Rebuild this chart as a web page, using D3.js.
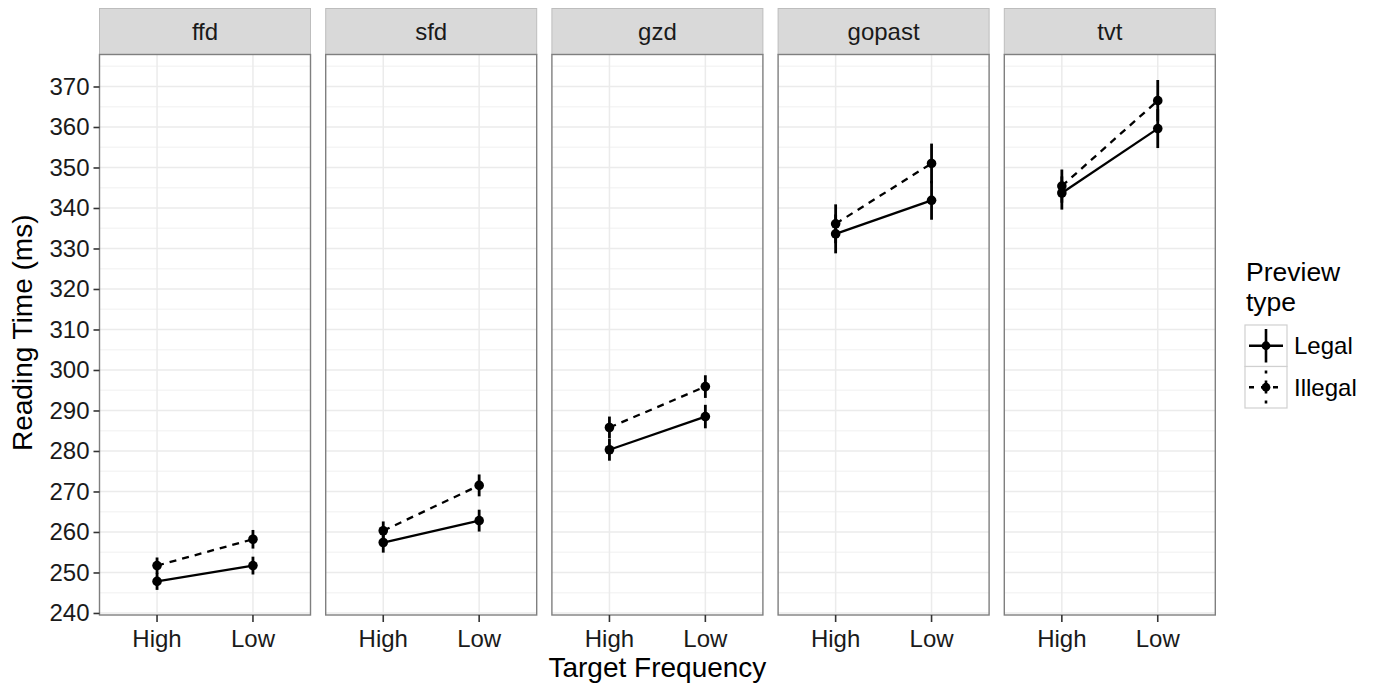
<!DOCTYPE html>
<html>
<head>
<meta charset="utf-8">
<script src="https://cdn.jsdelivr.net/npm/d3@7"></script>
<style>
  body { margin: 0; background: #fff; }
  svg { font-family: "Liberation Sans", Arial, Helvetica, sans-serif; }
</style>
</head>
<body>
<svg width="1374" height="688"></svg>
<script>
// chart data
const measures = ['ffd', 'sfd', 'gzd', 'gopast', 'tvt'];
const frequencies = ['High', 'Low'];
const previewTypes = ['Legal', 'Illegal'];
const legalMeans = [[247.8, 251.7], [257.4, 262.8], [280.3, 288.5], [333.6, 341.9], [343.7, 359.6]];
const legalErr = [[2.1, 2.2], [2.5, 2.7], [2.7, 2.9], [4.8, 4.8], [4.1, 4.8]];
const illegalMeans = [[251.7, 258.2], [260.3, 271.5], [285.8, 295.9], [336.1, 351.0], [345.4, 366.5]];
const illegalErr = [[2.0, 2.3], [2.3, 2.7], [2.7, 2.8], [4.8, 4.9], [4.1, 5.1]];
const yTicks = d3.range(240, 371, 10);

(function (d3) {
  'use strict';

  const svg = d3.select('svg');
  const panelLeft = 99.5, panelStep = 226.2, panelW = 211;
  const stripTop = 8.5, stripH = 46;
  const plotTop = stripTop + stripH, plotBottom = 615;

  const yScale = d3.scaleLinear().domain([239.5, 377.9]).range([plotBottom, plotTop]);
  // ggplot discrete expansion: 0.6 units on each side of the 2 categories
  const xScale = d3.scalePoint().domain(frequencies).range([0, panelW]).padding(0.6);
  const xPos = f => xScale(f);

  const series = previewTypes.map((t, k) => ({
    type: t,
    dash: k === 0 ? null : '7,6',
    means: k === 0 ? legalMeans : illegalMeans,
    errs: k === 0 ? legalErr : illegalErr
  }));

  measures.forEach((m, i) => {
    const g = svg.append('g').attr('transform', `translate(${panelLeft + i * panelStep},0)`);

    // strip
    g.append('rect').attr('x', 0).attr('y', stripTop).attr('width', panelW).attr('height', stripH)
      .attr('fill', '#d9d9d9').attr('stroke', '#bdbdbd').attr('stroke-width', 1);
    g.append('text').attr('x', panelW / 2).attr('y', stripTop + stripH / 2).attr('dy', '0.35em')
      .attr('text-anchor', 'middle').attr('font-size', 24).attr('fill', '#1a1a1a').text(m);

    // background + grid
    g.append('rect').attr('x', 0).attr('y', plotTop).attr('width', panelW).attr('height', plotBottom - plotTop)
      .attr('fill', '#fff');
    const minor = d3.range(235, 380, 10).filter(v => yScale(v) < plotBottom && yScale(v) > plotTop);
    g.selectAll('.minor').data(minor).enter().append('line')
      .attr('x1', 0).attr('x2', panelW).attr('y1', d => yScale(d)).attr('y2', d => yScale(d))
      .attr('stroke', '#f5f5f5').attr('stroke-width', 1.5);
    g.selectAll('.major').data(yTicks).enter().append('line')
      .attr('x1', 0).attr('x2', panelW).attr('y1', d => yScale(d)).attr('y2', d => yScale(d))
      .attr('stroke', '#ebebeb').attr('stroke-width', 1.5);
    g.selectAll('.vmajor').data(frequencies).enter().append('line')
      .attr('x1', d => xPos(d)).attr('x2', d => xPos(d)).attr('y1', plotTop).attr('y2', plotBottom)
      .attr('stroke', '#ebebeb').attr('stroke-width', 1.5);

    // series
    series.forEach(s => {
      const pts = frequencies.map((f, j) => ({ f, v: s.means[i][j], e: s.errs[i][j] }));
      g.selectAll(null).data(pts).enter().append('line')
        .attr('x1', d => xPos(d.f)).attr('x2', d => xPos(d.f))
        .attr('y1', d => yScale(d.v - d.e)).attr('y2', d => yScale(d.v + d.e))
        .attr('stroke', '#000').attr('stroke-width', 2.8);
      g.append('path').datum(pts)
        .attr('d', d3.line().x(d => xPos(d.f)).y(d => yScale(d.v)))
        .attr('fill', 'none').attr('stroke', '#000').attr('stroke-width', 2.3)
        .attr('stroke-dasharray', s.dash);
      g.selectAll(null).data(pts).enter().append('circle')
        .attr('cx', d => xPos(d.f)).attr('cy', d => yScale(d.v)).attr('r', 4.8).attr('fill', '#000');
    });

    // panel border
    g.append('rect').attr('x', 0).attr('y', plotTop).attr('width', panelW).attr('height', plotBottom - plotTop)
      .attr('fill', 'none').attr('stroke', '#7f7f7f').attr('stroke-width', 1.4);

    // x axis
    const xa = g.append('g').attr('transform', `translate(0,${plotBottom})`);
    xa.selectAll('line').data(frequencies).enter().append('line')
      .attr('x1', d => xPos(d)).attr('x2', d => xPos(d)).attr('y1', 0).attr('y2', 7)
      .attr('stroke', '#333').attr('stroke-width', 1.6);
    xa.selectAll('text').data(frequencies).enter().append('text')
      .attr('x', d => xPos(d)).attr('y', 32).attr('text-anchor', 'middle')
      .attr('font-size', 24).attr('fill', '#1a1a1a').text(d => d);
  });

  // y axis
  const yAxis = d3.axisLeft(yScale).tickValues(yTicks).tickSize(6).tickPadding(4);
  const ya = svg.append('g').attr('transform', `translate(${panelLeft},0)`).call(yAxis);
  ya.select('.domain').remove();
  ya.selectAll('.tick line').attr('stroke', '#333').attr('stroke-width', 1.6);
  ya.selectAll('.tick text').attr('font-size', 24).attr('fill', '#1a1a1a')
    .attr('font-family', '"Liberation Sans", Arial, sans-serif');

  // axis titles
  svg.append('text').attr('transform', `translate(32,${(plotTop + plotBottom) / 2 - 2}) rotate(-90)`)
    .attr('text-anchor', 'middle').attr('font-size', 28).attr('fill', '#000').text('Reading Time (ms)');
  svg.append('text').attr('x', panelLeft + (4 * panelStep + panelW) / 2).attr('y', 677)
    .attr('text-anchor', 'middle').attr('font-size', 28).attr('fill', '#000').text('Target Frequency');

  // legend
  const lg = svg.append('g').attr('transform', 'translate(1245,0)');
  lg.append('text').attr('x', 1).attr('y', 281).attr('font-size', 26.5).text('Preview');
  lg.append('text').attr('x', 1).attr('y', 311).attr('font-size', 26.5).text('type');
  const keyH = 41.5, keyW = 42, keyTop = 325;
  series.forEach((s, k) => {
    const kg = lg.append('g').attr('transform', `translate(0,${keyTop + k * keyH})`);
    kg.append('rect').attr('width', keyW).attr('height', keyH).attr('fill', '#fff')
      .attr('stroke', '#d0d0d0').attr('stroke-width', 1.2);
    kg.append('line').attr('x1', keyW / 2).attr('x2', keyW / 2).attr('y1', 4).attr('y2', keyH - 4)
      .attr('stroke', '#000').attr('stroke-width', 2.6).attr('stroke-dasharray', s.dash ? '3,7' : null);
    kg.append('line').attr('x1', 4).attr('x2', keyW - 4).attr('y1', keyH / 2).attr('y2', keyH / 2)
      .attr('stroke', '#000').attr('stroke-width', 2.3).attr('stroke-dasharray', s.dash ? '5,7' : null);
    kg.append('circle').attr('cx', keyW / 2).attr('cy', keyH / 2).attr('r', 4.4).attr('fill', '#000');
    kg.append('text').attr('x', keyW + 7).attr('y', keyH / 2).attr('dy', '0.35em')
      .attr('font-size', 24).text(s.type);
  });
}(d3));
</script>
</body>
</html>
